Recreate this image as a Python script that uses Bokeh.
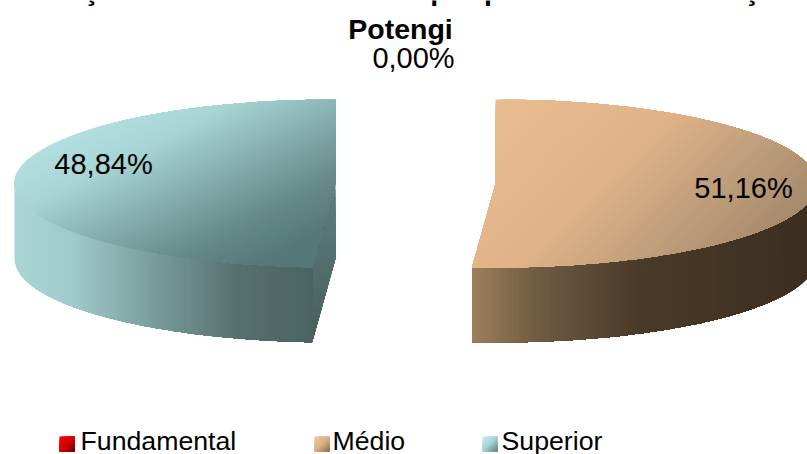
import math
from bokeh.plotting import figure
from bokeh.models import Range1d
from bokeh.core.properties import value
from bokeh.embed import file_html
from bokeh.resources import INLINE

categories = ["Fundamental", "Médio", "Superior"]
shares = [0.00, 51.16, 48.84]
labels = ["0,00%", "51,16%", "48,84%"]
title_lines = ["Formações docentes do IFRN – por professor da formação", "Potengi"]

W, H = 807, 454
RX, RY, DEPTH = 321, 84, 75
CY = 183
centers = {"Médio": 495, "Superior": 335}
FONT = value("Liberation Sans")


def hexrgb(h):
    return tuple(int(h[i:i + 2], 16) for i in (1, 3, 5))


def ramp(stops, t):
    t = max(0.0, min(1.0, t))
    for (a, ca), (b, cb) in zip(stops, stops[1:]):
        if t <= b:
            f = (t - a) / (b - a) if b > a else 0
            ca, cb = hexrgb(ca), hexrgb(cb)
            return "#%02x%02x%02x" % tuple(round(ca[i] + (cb[i] - ca[i]) * f) for i in range(3))
    return stops[-1][1]


def clip(poly, a, b, lim, keep_ge):
    out = []
    n = len(poly)
    for i in range(n):
        p, q = poly[i], poly[(i + 1) % n]
        dp, dq = a * p[0] + b * p[1] - lim, a * q[0] + b * q[1] - lim
        if not keep_ge:
            dp, dq = -dp, -dq
        if dp >= 0:
            out.append(p)
        if (dp >= 0) != (dq >= 0):
            f = dp / (dp - dq)
            out.append((p[0] + (q[0] - p[0]) * f, p[1] + (q[1] - p[1]) * f))
    return out


p = figure(width=W, height=H, output_backend="svg", toolbar_location=None,
           x_range=Range1d(0, W), y_range=Range1d(H, 0), min_border=0)
p.axis.visible = False
p.xgrid.visible = False
p.ygrid.visible = False
p.outline_line_color = None

xs_all, ys_all, col_all = [], [], []


def shade(poly, a, b, t0, t1, stops, n):
    vals = [a * x + b * y for x, y in poly]
    lo, hi = min(vals), max(vals)
    for i in range(n):
        l0 = lo + (hi - lo) * i / n
        l1 = lo + (hi - lo) * (i + 1) / n
        s = clip(poly, a, b, l0, True)
        if len(s) < 3:
            continue
        t = ((l0 + l1) / 2 - t0) / (t1 - t0)
        xs_all.append([q[0] for q in s])
        ys_all.append([q[1] for q in s])
        col_all.append(ramp(stops, t))


def pt(cx, deg, dy=0):
    r = math.radians(deg)
    return (cx + RX * math.sin(r), CY - RY * math.cos(r) + dy)


def arc(cx, d0, d1, dy=0, n=160):
    return [pt(cx, d0 + (d1 - d0) * i / n, dy) for i in range(n + 1)]


ang_m0 = shares[0] * 3.6
ang_m1 = ang_m0 + shares[1] * 3.6
ang_s1 = ang_m1 + shares[2] * 3.6

# Superior slice
cs = centers["Superior"]
face_stops = [(0, "#5d7f7f"), (1, "#465f5d")]
cut = [(cs, CY), pt(cs, ang_m1), pt(cs, ang_m1, DEPTH), (cs, CY + DEPTH)]
shade(cut, 0, 1, CY, CY + DEPTH + 82, face_stops, 24)
wall_front = arc(cs, ang_m1, 270)
wall = wall_front + [(x, y + DEPTH) for x, y in reversed(wall_front)]
shade(wall, 1, 0, 14, 311, [(0, "#a9d6d5"), (0.2, "#9fcaca"), (0.45, "#7d9f9f"), (0.75, "#55706f"), (1, "#4a6463")], 100)
top_s = [(cs, CY)] + arc(cs, ang_m1, ang_s1)
ga, gb = 0.6 / 275, 0.55 / 130
g0 = ga * 60 + gb * 130
shade(top_s, ga, gb, g0, g0 + 1,
      [(0, "#b4e0e0"), (0.25, "#a8d5d5"), (0.5, "#8ab2b2"), (0.8, "#668888"), (1, "#567878")], 110)

# Médio slice
cm = centers["Médio"]
wall_front = arc(cm, 90, ang_m1)
wall = wall_front + [(x, y + DEPTH) for x, y in reversed(wall_front)]
shade(wall, -1, 0, -807, -472, [(0, "#3c2e20"), (0.5, "#4a3a29"), (0.8, "#6f5a42"), (1, "#9c7e5c")], 110)
top_m = [(cm, CY)] + arc(cm, ang_m0, ang_m1)
shade(top_m, 0.5, 0.5, 0.5 * 495 + 0.5 * 100, 0.5 * 807 + 0.5 * 260,
      [(0, "#e9bd91"), (0.4, "#dfb387"), (0.7, "#b99a78"), (1, "#9a8066")], 110)

# Legend swatches
swatch_x = {"Fundamental": 59, "Médio": 314, "Superior": 482}
swatch_stops = {
    "Fundamental": [(0, "#ff0000"), (0.5, "#d80000"), (1, "#680000")],
    "Médio": [(0, "#f0cba3"), (0.5, "#dcb084"), (1, "#8a6c4b")],
    "Superior": [(0, "#c4f0f0"), (0.5, "#a5d2d2"), (1, "#5b8080")],
}
for c in categories:
    x0 = swatch_x[c]
    sq = [(x0, 436), (x0 + 15, 436), (x0 + 15, 451), (x0, 451)]
    shade(sq, 1, 1, x0 + 436, x0 + 15 + 451, swatch_stops[c], 14)

p.patches(xs_all, ys_all, fill_color=col_all, line_color=None)

# Titles
p.text([394], [-11], text=[title_lines[0]], text_font=FONT, text_font_style="bold", text_font_size="28.5px",
       text_align="center", text_baseline="alphabetic", text_color="#000000")
p.text([400], [28], text=[title_lines[1]], text_font=FONT, text_font_style="bold", text_font_size="28.5px",
       text_align="center", text_baseline="alphabetic", text_color="#000000")

# Data labels
p.text([413, 743, 103], [57, 187, 163], text=labels, text_font=FONT, text_font_size="29px",
       text_align="center", text_baseline="alphabetic", text_color="#000000")

# Legend texts
p.text([80, 332, 501], [440, 440, 440], text=categories, text_font=FONT, text_font_size="26.7px",
       text_align="left", text_baseline="alphabetic", text_color="#000000")

open("out.html", "w").write(file_html(p, INLINE))
